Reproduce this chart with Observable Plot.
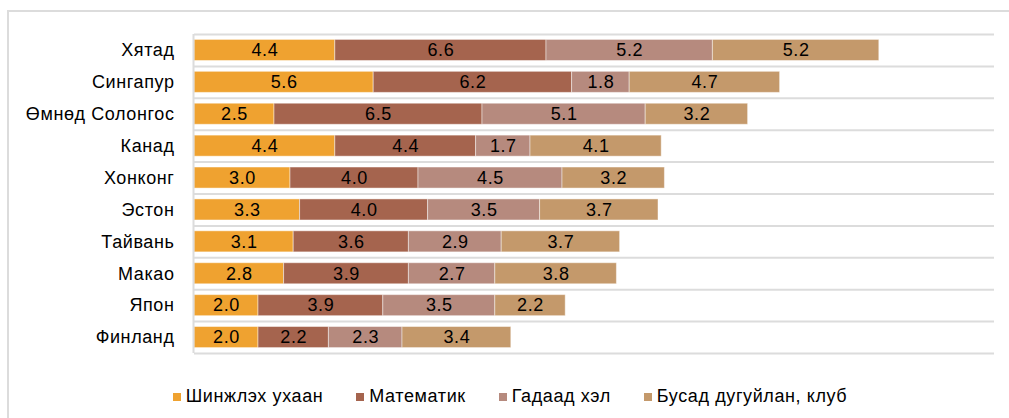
<!DOCTYPE html>
<html>
<head>
<meta charset="utf-8">
<script src="https://cdn.jsdelivr.net/npm/d3@7"></script>
<script src="https://cdn.jsdelivr.net/npm/@observablehq/plot@0.6"></script>
<style>
  body { margin: 0; background: #fff; font-family: "Liberation Sans", Arial, sans-serif; }
  #wrap { position: relative; width: 1009px; height: 418px; overflow: hidden; }
  #frame { position: absolute; left: 7px; top: 10px; width: 1010px; height: 420px;
           border-left: 2px solid #dcdcdc; border-top: 2px solid #dcdcdc; }
  #chart { position: absolute; left: 0; top: 0; }
  #chart svg text { letter-spacing: 0.6px; }
  #legend { position: absolute; top: 386px; left: 20px; width: 980px; display: flex;
            justify-content: center; gap: 33px; font-size: 18px; letter-spacing: 0.6px; color: #000; }
  .item { display: flex; align-items: center; gap: 5px; }
  .sw { width: 8px; height: 8px; display: inline-block; }
</style>
</head>
<body>
<div id="wrap">
  <div id="frame"></div>
  <div id="chart"></div>
  <div id="legend"></div>
</div>
<script>
const countries = ["Хятад", "Сингапур", "Өмнөд Солонгос", "Канад", "Хонконг", "Эстон", "Тайвань", "Макао", "Япон", "Финланд"];
const subjects = ["Шинжлэх ухаан", "Математик", "Гадаад хэл", "Бусад дугуйлан, клуб"];
const colors = ["#EFA230", "#A5644E", "#B68A7E", "#C4996B"];
const science = [4.4, 5.6, 2.5, 4.4, 3.0, 3.3, 3.1, 2.8, 2.0, 2.0];
const math    = [6.6, 6.2, 6.5, 4.4, 4.0, 4.0, 3.6, 3.9, 3.9, 2.2];
const foreign = [5.2, 1.8, 5.1, 1.7, 4.5, 3.5, 2.9, 2.7, 3.5, 2.3];
const other   = [5.2, 4.7, 3.2, 4.1, 3.2, 3.7, 3.7, 3.8, 2.2, 3.4];
const series = [science, math, foreign, other];

const data = countries.flatMap((c, i) =>
  subjects.map((s, j) => ({country: c, subject: s, value: series[j][i]})));

const W = 1009, H = 370, MT = 34, MB = 17, ML = 194, MR = 15;
const step = (H - MT - MB) / countries.length;
const grid = "#dcdcdc";

const chart = Plot.plot({
  width: W, height: H,
  marginTop: MT, marginBottom: MB, marginLeft: ML, marginRight: MR,
  x: {domain: [0, 25], axis: null},
  y: {domain: countries, paddingInner: 0.34, paddingOuter: 0.17, round: false, label: null, axis: null},
  color: {domain: subjects, range: colors},
  style: {fontFamily: "'Liberation Sans', Arial, sans-serif", fontSize: "18px", color: "#000", background: "transparent", overflow: "visible"},
  marks: [
    Plot.ruleY(countries, {y: d => d, dy: -step / 2, stroke: grid, strokeWidth: 2}),
    Plot.ruleY(countries.slice(-1), {y: d => d, dy: step / 2, stroke: grid, strokeWidth: 2}),
    Plot.barX(data, Plot.stackX({x: "value", y: "country", fill: "subject", stroke: "white", strokeOpacity: 0.45, strokeWidth: 1})),
    Plot.text(data, Plot.stackX({x: "value", y: "country", z: "subject", text: d => d.value.toFixed(1), fill: "#000", fontSize: 18})),
    Plot.ruleX([0], {dx: -1, stroke: grid, strokeWidth: 2}),
    Plot.axisY({tickSize: 0, tickPadding: 20, fontSize: 18, label: null, fill: "#000"})
  ]
});
document.getElementById("chart").appendChild(chart);

const legend = document.getElementById("legend");
subjects.forEach((s, i) => {
  const item = document.createElement("div");
  item.className = "item";
  const sw = document.createElement("span");
  sw.className = "sw";
  sw.style.background = colors[i];
  const t = document.createElement("span");
  t.textContent = s;
  item.appendChild(sw);
  item.appendChild(t);
  legend.appendChild(item);
});
</script>
</body>
</html>
